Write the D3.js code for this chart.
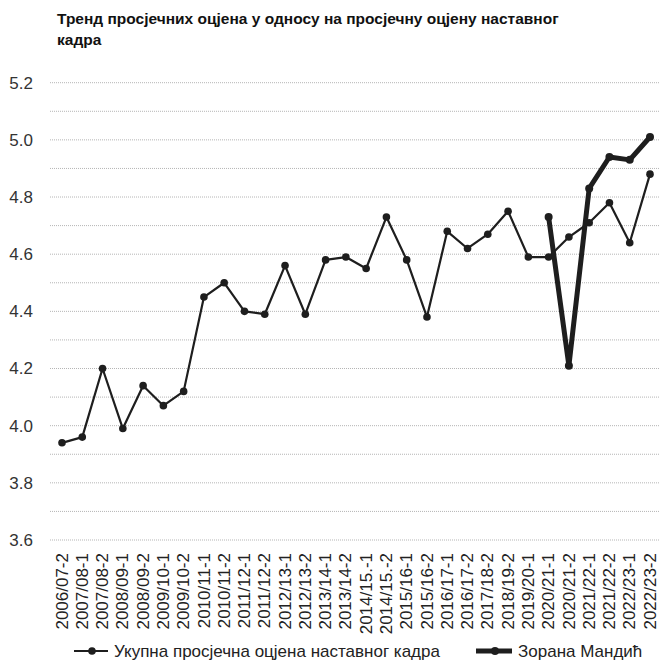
<!DOCTYPE html>
<html>
<head>
<meta charset="utf-8">
<script src="https://cdn.jsdelivr.net/npm/d3@7"></script>
<style>
  body { margin: 0; background: #fff; }
  svg { font-family: "Liberation Sans", Arial, sans-serif; }
</style>
</head>
<body>
<svg id="chart" width="660" height="663"></svg>
<script>
// categories (semesters)
const categories = [
  "2006/07-2", "2007/08-1", "2007/08-2", "2008/09-1", "2008/09-2",
  "2009/10-1", "2009/10-2", "2010/11-1", "2010/11-2", "2011/12-1",
  "2011/12-2", "2012/13-1", "2012/13-2", "2013/14-1", "2013/14-2",
  "2014/15.-1", "2014/15.-2", "2015/16-1", "2015/16-2", "2016/17-1",
  "2016/17-2", "2017/18-2", "2018/19-2", "2019/20-1", "2020/21-1",
  "2020/21-2", "2021/22-1", "2021/22-2", "2022/23-1", "2022/23-2"
];

// overall average grade of teaching staff
const totalValues = [
  3.94, 3.96, 4.20, 3.99, 4.14, 4.07, 4.12, 4.45, 4.50, 4.40,
  4.39, 4.56, 4.39, 4.58, 4.59, 4.55, 4.73, 4.58, 4.38, 4.68,
  4.62, 4.67, 4.75, 4.59, 4.59, 4.66, 4.71, 4.78, 4.64, 4.88
];

// Зорана Мандић, only the last semesters
const zoranaCats = ["2020/21-1", "2020/21-2", "2021/22-1", "2021/22-2", "2022/23-1", "2022/23-2"];
const zoranaValues = [4.73, 4.21, 4.83, 4.94, 4.93, 5.01];

const yTicks = [3.6, 3.8, 4.0, 4.2, 4.4, 4.6, 4.8, 5.0, 5.2];
const gridValues = d3.range(36, 53).map(d => d / 10);

const titleLines = [
  "Тренд просјечних оцјена у односу на просјечну оцјену наставног",
  "кадра"
];
const legendLabels = ["Укупна просјечна оцјена наставног кадра", "Зорана Мандић"];

const svg = d3.select("#chart");
const ink = "#1e1e1e";

const x = d3.scalePoint().domain(categories).range([62, 650]);
const y = d3.scaleLinear().domain([3.6, 5.2]).range([540, 82.7]);

// title
svg.append("text")
  .attr("x", 57)
  .attr("y", 24)
  .attr("font-weight", "bold")
  .attr("font-size", 15.5)
  .attr("fill", "#111")
  .selectAll("tspan")
  .data(titleLines)
  .enter()
  .append("tspan")
  .attr("x", 57)
  .attr("dy", (d, i) => i === 0 ? 0 : 21)
  .text(d => d);

// gridlines (dotted, every 0.1)
svg.append("g")
  .selectAll("line")
  .data(gridValues)
  .enter()
  .append("line")
  .attr("x1", 50)
  .attr("x2", 660)
  .attr("y1", d => y(d))
  .attr("y2", d => y(d))
  .attr("stroke", "#b5b5b5")
  .attr("stroke-width", 1)
  .attr("stroke-dasharray", "1,1");

// y axis labels
const yAxis = d3.axisLeft(y)
  .tickValues(yTicks)
  .tickFormat(d3.format(".1f"))
  .tickSize(0)
  .tickPadding(0);
svg.append("g")
  .attr("transform", "translate(33,0)")
  .call(yAxis)
  .call(g => g.select(".domain").remove())
  .call(g => g.selectAll("text")
    .attr("font-size", 17)
    .attr("font-family", "Liberation Sans, Arial, sans-serif")
    .attr("fill", "#333"));

// x axis labels (rotated)
const xAxis = d3.axisBottom(x).tickSize(0).tickPadding(0);
svg.append("g")
  .attr("transform", "translate(0,553)")
  .call(xAxis)
  .call(g => g.select(".domain").remove())
  .call(g => g.selectAll("text")
    .attr("font-size", 17)
    .attr("font-family", "Liberation Sans, Arial, sans-serif")
    .attr("fill", "#222")
    .attr("text-anchor", "end")
    .attr("transform", "rotate(-90)")
    .attr("x", 0)
    .attr("y", 0)
    .attr("dy", "0.3em"));

// total line
const totalData = categories.map((c, i) => ({ c: c, v: totalValues[i] }));
const zoranaData = zoranaCats.map((c, i) => ({ c: c, v: zoranaValues[i] }));

const line = d3.line().x(d => x(d.c)).y(d => y(d.v));

svg.append("path")
  .datum(totalData)
  .attr("d", line)
  .attr("fill", "none")
  .attr("stroke", ink)
  .attr("stroke-width", 2.2)
  .attr("stroke-linejoin", "round");

svg.append("g")
  .selectAll("circle")
  .data(totalData)
  .enter()
  .append("circle")
  .attr("cx", d => x(d.c))
  .attr("cy", d => y(d.v))
  .attr("r", 3.8)
  .attr("fill", ink);

// Zorana line
svg.append("path")
  .datum(zoranaData)
  .attr("d", line)
  .attr("fill", "none")
  .attr("stroke", ink)
  .attr("stroke-width", 5)
  .attr("stroke-linejoin", "round");

svg.append("g")
  .selectAll("circle")
  .data(zoranaData)
  .enter()
  .append("circle")
  .attr("cx", d => x(d.c))
  .attr("cy", d => y(d.v))
  .attr("r", 4)
  .attr("fill", ink);

// legend
const legendY = 651;
const leg = svg.append("g");
leg.append("line")
  .attr("x1", 74).attr("x2", 108)
  .attr("y1", legendY).attr("y2", legendY)
  .attr("stroke", ink).attr("stroke-width", 2.2);
leg.append("circle")
  .attr("cx", 92).attr("cy", legendY).attr("r", 3.8).attr("fill", ink);
leg.append("text")
  .attr("x", 114).attr("y", legendY)
  .attr("dy", "0.35em")
  .attr("font-size", 17)
  .attr("fill", "#222")
  .text(legendLabels[0]);

leg.append("line")
  .attr("x1", 476).attr("x2", 512)
  .attr("y1", legendY).attr("y2", legendY)
  .attr("stroke", ink).attr("stroke-width", 5);
leg.append("circle")
  .attr("cx", 495).attr("cy", legendY).attr("r", 4).attr("fill", ink);
leg.append("text")
  .attr("x", 518).attr("y", legendY)
  .attr("dy", "0.35em")
  .attr("font-size", 17)
  .attr("fill", "#222")
  .text(legendLabels[1]);
</script>
</body>
</html>
